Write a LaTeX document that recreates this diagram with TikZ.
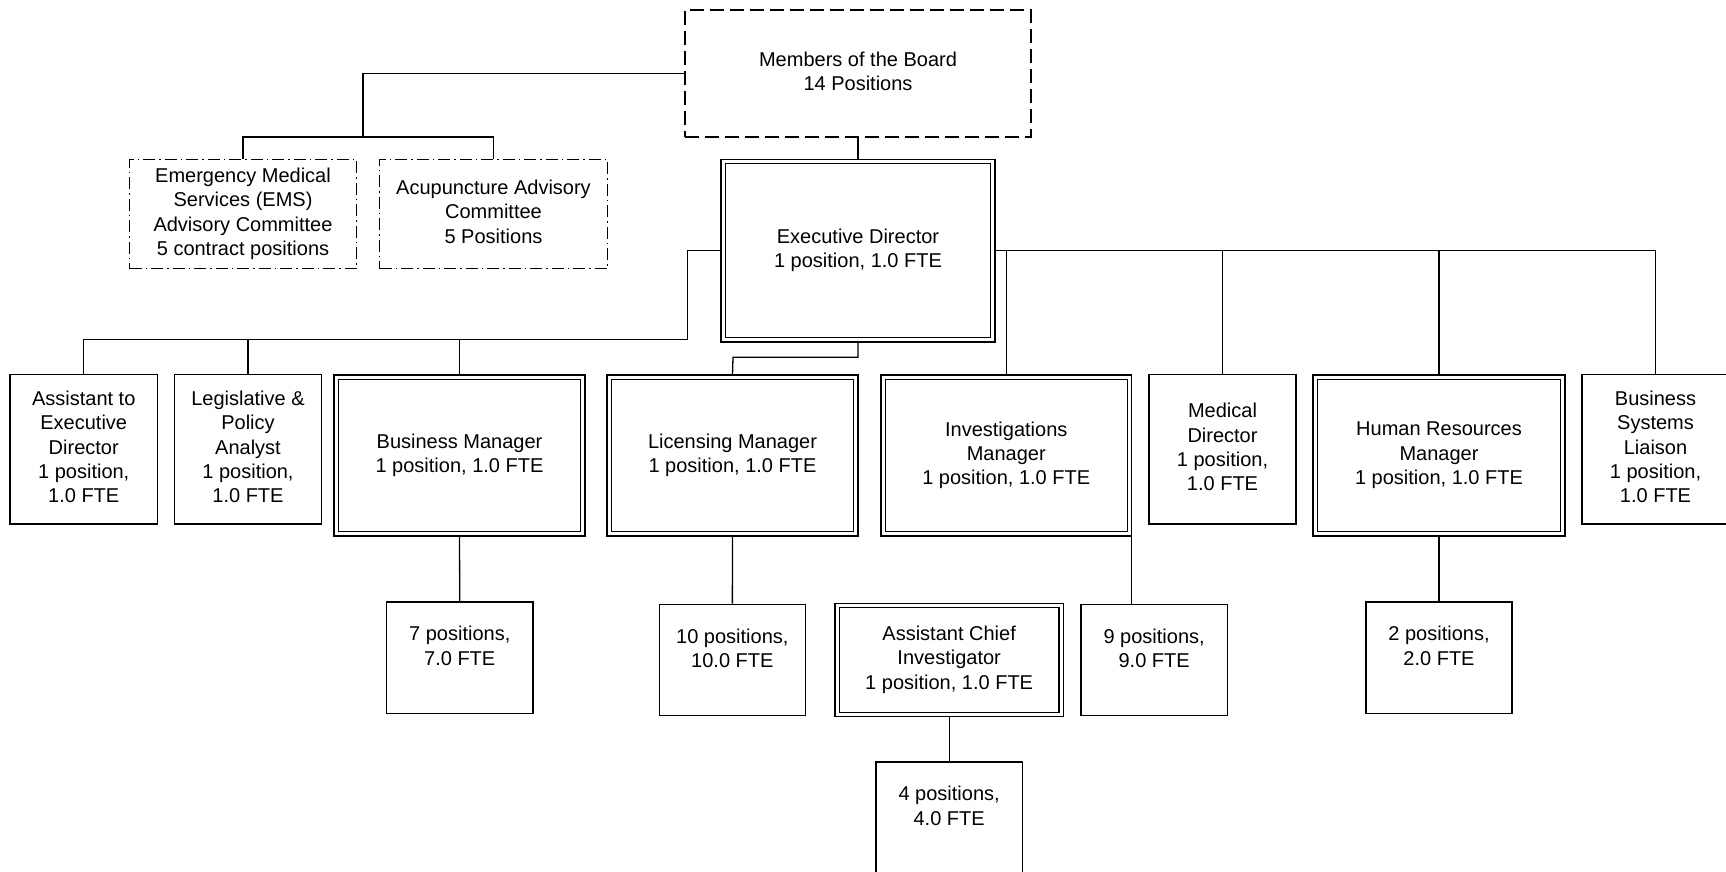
\documentclass[tikz,border=0pt]{standalone}
\usepackage{fontspec}
\setmainfont{Liberation Sans}
\usetikzlibrary{backgrounds}
\pgfdeclarelayer{canvas}
\pgfsetlayers{canvas,background,main}
\newcommand\chartfont{\fontsize{20}{24.3}\selectfont}
\tikzset{
  box/.style={draw, line width=1.3pt, fill=white, inner sep=0pt, align=center,
    font=\chartfont,
    execute at begin node={\rule{0pt}{23pt}},
    execute at end node={\rule[-4.6pt]{0pt}{4.6pt}}},
  dbl/.style={box, double, double distance=3pt, outer sep=2.15pt},
  boarddash/.style={box, dash pattern=on 14pt off 6pt},
  commdash/.style={box, dash pattern=on 12pt off 4pt on 1.5pt off 4pt},
  conn/.style={draw, line width=1.3pt},
}
\begin{document}
\begin{tikzpicture}[x=1pt,y=-1pt]
\begin{pgfonlayer}{canvas}
\fill[white] (0,0) rectangle (1726,871);
\end{pgfonlayer}
\useasboundingbox (0,0) rectangle (1726,871);

% top
\node[boarddash, minimum width=346pt, minimum height=127pt] (board) at (858,73.5) {Members of the Board\\14 Positions};
\node[commdash, minimum width=227pt, minimum height=109pt] (ems) at (243,214) {Emergency Medical\\Services (EMS)\\Advisory Committee\\5 contract positions};
\node[commdash, minimum width=228pt, minimum height=109pt] (acu) at (493.5,214) {Acupuncture Advisory\\Committee\\5 Positions};
\node[dbl, minimum width=269.7pt, minimum height=178.2pt] (exec) at (858,250.75) {Executive Director\\1 position, 1.0 FTE};

% middle row
\node[box, minimum width=147.5pt, minimum height=149.5pt] (asst) at (83.75,449.25) {Assistant to\\Executive\\Director\\1 position,\\1.0 FTE};
\node[box, minimum width=147pt, minimum height=149.5pt] (legis) at (248,449.25) {Legislative \&\\Policy\\Analyst\\1 position,\\1.0 FTE};
\node[dbl, minimum width=246.7pt, minimum height=156.7pt] (busmgr) at (459.5,455.5) {Business Manager\\1 position, 1.0 FTE};
\node[dbl, minimum width=246.7pt, minimum height=156.7pt] (lic) at (732.5,455.5) {Licensing Manager\\1 position, 1.0 FTE};
\node[dbl, minimum width=246.2pt, minimum height=156.7pt] (inv) at (1006.25,455.5) {Investigations\\Manager\\1 position, 1.0 FTE};
\node[box, minimum width=147pt, minimum height=149.5pt] (med) at (1222.5,449.25) {Medical\\Director\\1 position,\\1.0 FTE};
\node[dbl, minimum width=247.7pt, minimum height=156.7pt] (hr) at (1439,455.5) {Human Resources\\Manager\\1 position, 1.0 FTE};
\node[box, minimum width=147pt, minimum height=149.5pt] (bsl) at (1655.5,449.25) {Business\\Systems\\Liaison\\1 position,\\1.0 FTE};

% bottom rows
\node[box, minimum width=146.5pt, minimum height=111.3pt] (pos7) at (459.75,657.65) {7 positions,\\7.0 FTE\\[-5pt]\mbox{}};
\node[box, minimum width=146.1pt, minimum height=111.4pt] (pos10) at (732.35,660) {10 positions,\\10.0 FTE\\[-5pt]\mbox{}};
\node[dbl, minimum width=224pt, minimum height=109.1pt] (aci) at (949.15,660) {Assistant Chief\\Investigator\\1 position, 1.0 FTE};
\node[box, minimum width=146.3pt, minimum height=111.4pt] (pos9) at (1154.15,660) {9 positions,\\9.0 FTE\\[-5pt]\mbox{}};
\node[box, minimum width=146.3pt, minimum height=111.4pt] (pos4) at (949.15,817.7) {4 positions,\\4.0 FTE\\[-5pt]\mbox{}};
\node[box, minimum width=146pt, minimum height=111.3pt] (pos2) at (1439,657.65) {2 positions,\\2.0 FTE\\[-5pt]\mbox{}};

\coordinate (cb) at (363,137);
\coordinate (cl) at (687.5,339.3);
\coordinate (cm) at (733,357.3);
\coordinate (cr) at (1655.5,250.75);

\begin{scope}[on background layer]
\draw[conn] (board.west) -| (cb);
\draw[conn] (ems.north) |- (cb) -| (acu.north);
\draw[conn] (board.south) -- (exec.north);
\draw[conn] (exec.west) -| (cl) -| (asst.north);
\draw[conn] (legis.north) -- (legis.north |- cl);
\draw[conn] (busmgr.north) -- (busmgr.north |- cl);
\draw[conn] (exec.south) |- (cm) -- (lic.north);
\draw[conn] (exec.east) -- (cr) -- (bsl.north);
\draw[conn] (inv.north) -- (inv.north |- cr);
\draw[conn] (med.north) -- (med.north |- cr);
\draw[conn] (hr.north) -- (hr.north |- cr);
\draw[conn] (busmgr.south) -- (pos7.north);
\draw[conn] (lic.south) -- (pos10.north);
\draw[conn] (inv.south east) -- (inv.south east |- pos9.north);
\draw[conn] (aci.south) -- (pos4.north);
\draw[conn] (hr.south) -- (pos2.north);
\end{scope}
\end{tikzpicture}
\end{document}
